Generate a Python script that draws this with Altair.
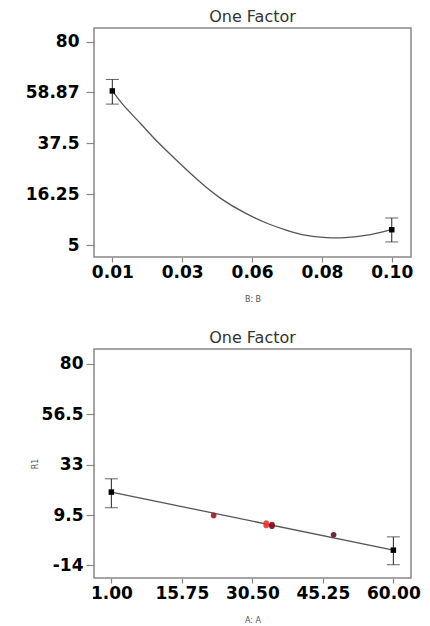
import altair as alt
import pandas as pd

# ---------- top panel (factor B) ----------
top_design_B = [0.01, 0.10]
top_design_R1 = [59.4, 1.4]
top_err_lo = [53.9, -3.7]
top_err_hi = [64.2, 6.3]

top_curve_B = [0.01, 0.0135, 0.019, 0.024, 0.0295, 0.037, 0.045, 0.053, 0.060,
               0.066, 0.072, 0.079, 0.085, 0.092, 0.098, 0.10]
top_curve_R1 = [59.4, 53.6, 45.9, 38.9, 31.9, 22.8, 14.4, 8.2, 4.0,
                1.2, -0.9, -1.9, -1.9, -0.9, 0.8, 1.4]

top_x_ticks = [0.01, 0.0325, 0.055, 0.0775, 0.10]
top_x_labels = ["0.01", "0.03", "0.06", "0.08", "0.10"]
top_y_ticks = [-5, 16.25, 37.5, 58.75, 80]
top_y_labels = ["5", "16.25", "37.5", "58.87", "80"]

# ---------- bottom panel (factor A) ----------
bot_design_A = [1, 60]
bot_design_R1 = [20.2, -6.9]
bot_err_lo = [12.9, -13.7]
bot_err_hi = [26.4, -0.7]

bot_line_A = [1, 60]
bot_line_R1 = [20.2, -6.9]

bot_obs_A = [22.4, 33.4, 33.4, 34.6, 34.6, 47.5]
bot_obs_R1 = [9.3, 4.6, 5.7, 4.3, 5.0, 0.3]
bot_obs_color = ["#9b1b22", "#e2383a", "#e2383a", "#8a1020", "#8a1020", "#5e1428"]

bot_x_ticks = [1, 15.75, 30.5, 45.25, 60]
bot_x_labels = ["1.00", "15.75", "30.50", "45.25", "60.00"]
bot_y_ticks = [-14, 9.5, 33, 56.5, 80]
bot_y_labels = ["-14", "9.5", "33", "56.5", "80"]


def label_expr(ticks, labels):
    expr = "''"
    for t, l in reversed(list(zip(ticks, labels))):
        expr = f"abs(datum.value - ({t})) < 1e-9 ? '{l}' : ({expr})"
    return expr


LABEL_FONT = "DejaVu Sans"


def y_axis(ticks, labels, pad, title=None, title_x=None):
    kw = dict(
        values=ticks, labelExpr=label_expr(ticks, labels), grid=False, domain=False,
        tickSize=8, tickColor="#888", tickWidth=1.2, labelPadding=pad,
        labelFont=LABEL_FONT, labelFontWeight="bold", labelFontSize=17, labelColor="#000",
    )
    if title:
        kw.update(title=title, titleFont="DejaVu Sans", titleFontSize=8,
                  titleFontWeight="normal", titleColor="#555")
        if title_x is not None:
            kw.update(titleX=title_x)
    else:
        kw.update(title=None)
    return alt.Axis(**kw)


def x_axis(ticks, labels, title):
    return alt.Axis(
        values=ticks, labelExpr=label_expr(ticks, labels), grid=False, domain=False,
        tickSize=5, tickColor="#888", tickWidth=1.2, labelPadding=2,
        labelFont=LABEL_FONT, labelFontWeight="bold", labelFontSize=17, labelColor="#000",
        title=title, titleFont="DejaVu Sans", titleFontSize=8, titleFontWeight="normal",
        titleColor="#555", titlePadding=15,
    )


def title(text):
    return alt.TitleParams(text, font="DejaVu Sans", fontSize=16, fontWeight="normal",
                           color="#333", offset=3, anchor="middle")


W = 317

# top chart
tx = alt.Scale(domain=[0.0041, 0.1062], nice=False, zero=False)
ty = alt.Scale(domain=[-10.0, 85.7], nice=False, zero=False)

top_pts = pd.DataFrame({"B": top_design_B, "R1": top_design_R1, "lo": top_err_lo, "hi": top_err_hi})
top_curve = pd.DataFrame({"B": top_curve_B, "R1": top_curve_R1})

t_line = alt.Chart(top_curve).mark_line(interpolate="natural", color="#555", strokeWidth=1.3).encode(
    x=alt.X("B:Q", scale=tx, axis=x_axis(top_x_ticks, top_x_labels, "B: B")),
    y=alt.Y("R1:Q", scale=ty, axis=y_axis(top_y_ticks, top_y_labels, 7)),
)
t_rule = alt.Chart(top_pts).mark_rule(color="#222", strokeWidth=1).encode(
    x="B:Q", y="lo:Q", y2="hi:Q")
t_cap_lo = alt.Chart(top_pts).mark_tick(orient="horizontal", size=13, thickness=1, color="#222").encode(
    x="B:Q", y="lo:Q")
t_cap_hi = alt.Chart(top_pts).mark_tick(orient="horizontal", size=13, thickness=1, color="#222").encode(
    x="B:Q", y="hi:Q")
t_sq = alt.Chart(top_pts).mark_square(size=30, color="#000", opacity=1).encode(x="B:Q", y="R1:Q")

top = alt.layer(t_line, t_rule, t_cap_lo, t_cap_hi, t_sq).properties(
    width=W, height=229, title=title("One Factor"))

# bottom chart
bx = alt.Scale(domain=[-2.63, 63.69], nice=False, zero=False)
by = alt.Scale(domain=[-19.9, 87.0], nice=False, zero=False)

bot_pts = pd.DataFrame({"A": bot_design_A, "R1": bot_design_R1, "lo": bot_err_lo, "hi": bot_err_hi})
bot_line = pd.DataFrame({"A": bot_line_A, "R1": bot_line_R1})
bot_obs = pd.DataFrame({"A": bot_obs_A, "R1": bot_obs_R1, "c": bot_obs_color})

b_line = alt.Chart(bot_line).mark_line(color="#555", strokeWidth=1.3).encode(
    x=alt.X("A:Q", scale=bx, axis=x_axis(bot_x_ticks, bot_x_labels, "A: A")),
    y=alt.Y("R1:Q", scale=by, axis=y_axis(bot_y_ticks, bot_y_labels, 3, "R1", -55)),
)
b_obs = alt.Chart(bot_obs).mark_circle(size=32, opacity=0.9).encode(
    x="A:Q", y="R1:Q", color=alt.Color("c:N", scale=None))
b_rule = alt.Chart(bot_pts).mark_rule(color="#222", strokeWidth=1).encode(
    x="A:Q", y="lo:Q", y2="hi:Q")
b_cap_lo = alt.Chart(bot_pts).mark_tick(orient="horizontal", size=13, thickness=1, color="#222").encode(
    x="A:Q", y="lo:Q")
b_cap_hi = alt.Chart(bot_pts).mark_tick(orient="horizontal", size=13, thickness=1, color="#222").encode(
    x="A:Q", y="hi:Q")
b_sq = alt.Chart(bot_pts).mark_square(size=30, color="#000", opacity=1).encode(x="A:Q", y="R1:Q")

bottom = alt.layer(b_line, b_obs, b_rule, b_cap_lo, b_cap_hi, b_sq).properties(
    width=W, height=229, title=title("One Factor"))

chart = alt.vconcat(top, bottom, spacing=25).properties(
    padding={"left": 24, "top": 8, "right": 0, "bottom": 0},
    background="white",
).configure_view(stroke="#888", strokeWidth=1.5)

chart.save("out.html", embed_options={"renderer": "svg", "actions": False})
